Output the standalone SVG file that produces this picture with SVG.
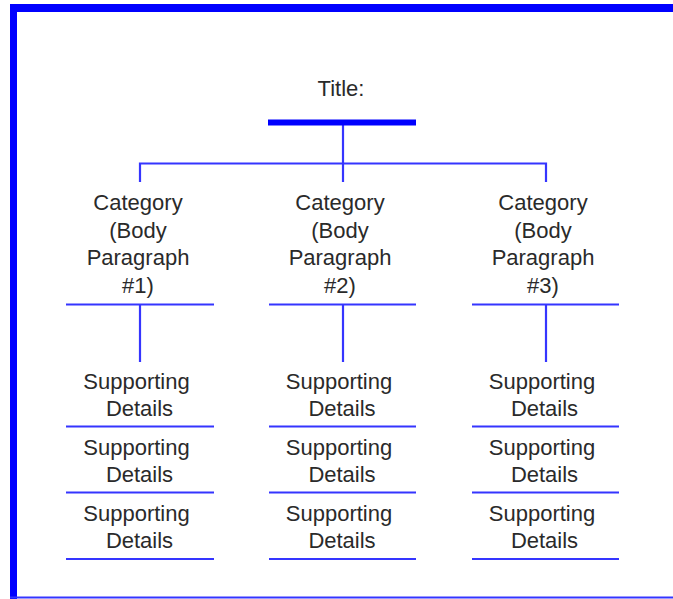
<svg xmlns="http://www.w3.org/2000/svg" width="673" height="599" viewBox="0 0 673 599">
  <style>
    .lbl { font-family: "Liberation Sans", Arial, sans-serif; font-size: 22px; fill: #2a2a2a; text-anchor: middle; }
    .thin { stroke: #3535ff; stroke-width: 2.2; fill: none; }
    .thick { stroke: #0000ff; fill: none; }
  </style>
  <rect width="673" height="599" fill="#ffffff"/>

  <!-- outer frame -->
  <g id="frame">
    <line class="thick" x1="10" y1="8" x2="673" y2="8" stroke-width="8"/>
    <line class="thick" x1="13.5" y1="4" x2="13.5" y2="599" stroke-width="7"/>
    <line class="thin" x1="10" y1="597.5" x2="673" y2="597.5"/>
  </g>

  <!-- connectors -->
  <g id="connectors">
    <line class="thin" x1="343" y1="122" x2="343" y2="182"/>
    <polyline class="thin" points="140,182 140,163.5 546,163.5 546,182"/>
    <line class="thin" x1="140" y1="304" x2="140" y2="362"/>
    <line class="thin" x1="343" y1="304" x2="343" y2="362"/>
    <line class="thin" x1="546" y1="304" x2="546" y2="362"/>
  </g>

  <g id="title">
    <text class="lbl" x="341" y="96">Title:</text>
    <line class="thick" x1="268" y1="122.5" x2="416" y2="122.5" stroke-width="6"/>
  </g>

  <g id="category1">
    <text class="lbl" x="138" y="210">Category</text>
    <text class="lbl" x="138" y="238">(Body</text>
    <text class="lbl" x="138" y="265">Paragraph</text>
    <text class="lbl" x="138" y="293">#1)</text>
    <line class="thin" x1="66" y1="304.5" x2="214" y2="304.5"/>
  </g>
  <g id="category2">
    <text class="lbl" x="340" y="210">Category</text>
    <text class="lbl" x="340" y="238">(Body</text>
    <text class="lbl" x="340" y="265">Paragraph</text>
    <text class="lbl" x="340" y="293">#2)</text>
    <line class="thin" x1="269" y1="304.5" x2="416" y2="304.5"/>
  </g>
  <g id="category3">
    <text class="lbl" x="543" y="210">Category</text>
    <text class="lbl" x="543" y="238">(Body</text>
    <text class="lbl" x="543" y="265">Paragraph</text>
    <text class="lbl" x="543" y="293">#3)</text>
    <line class="thin" x1="472" y1="304.5" x2="619" y2="304.5"/>
  </g>

  <!-- supporting details, column 1 -->
  <g id="details1a">
    <text class="lbl" x="136.5" y="389">Supporting</text>
    <text class="lbl" x="139.5" y="416">Details</text>
    <line class="thin" x1="66" y1="426.5" x2="214" y2="426.5"/>
  </g>
  <g id="details1b">
    <text class="lbl" x="136.5" y="455">Supporting</text>
    <text class="lbl" x="139.5" y="482">Details</text>
    <line class="thin" x1="66" y1="492.5" x2="214" y2="492.5"/>
  </g>
  <g id="details1c">
    <text class="lbl" x="136.5" y="521">Supporting</text>
    <text class="lbl" x="139.5" y="548">Details</text>
    <line class="thin" x1="66" y1="559" x2="214" y2="559"/>
  </g>

  <!-- supporting details, column 2 -->
  <g id="details2a">
    <text class="lbl" x="339" y="389">Supporting</text>
    <text class="lbl" x="342" y="416">Details</text>
    <line class="thin" x1="269" y1="426.5" x2="416" y2="426.5"/>
  </g>
  <g id="details2b">
    <text class="lbl" x="339" y="455">Supporting</text>
    <text class="lbl" x="342" y="482">Details</text>
    <line class="thin" x1="269" y1="492.5" x2="416" y2="492.5"/>
  </g>
  <g id="details2c">
    <text class="lbl" x="339" y="521">Supporting</text>
    <text class="lbl" x="342" y="548">Details</text>
    <line class="thin" x1="269" y1="559" x2="416" y2="559"/>
  </g>

  <!-- supporting details, column 3 -->
  <g id="details3a">
    <text class="lbl" x="542" y="389">Supporting</text>
    <text class="lbl" x="544.5" y="416">Details</text>
    <line class="thin" x1="472" y1="426.5" x2="619" y2="426.5"/>
  </g>
  <g id="details3b">
    <text class="lbl" x="542" y="455">Supporting</text>
    <text class="lbl" x="544.5" y="482">Details</text>
    <line class="thin" x1="472" y1="492.5" x2="619" y2="492.5"/>
  </g>
  <g id="details3c">
    <text class="lbl" x="542" y="521">Supporting</text>
    <text class="lbl" x="544.5" y="548">Details</text>
    <line class="thin" x1="472" y1="559" x2="619" y2="559"/>
  </g>
</svg>
